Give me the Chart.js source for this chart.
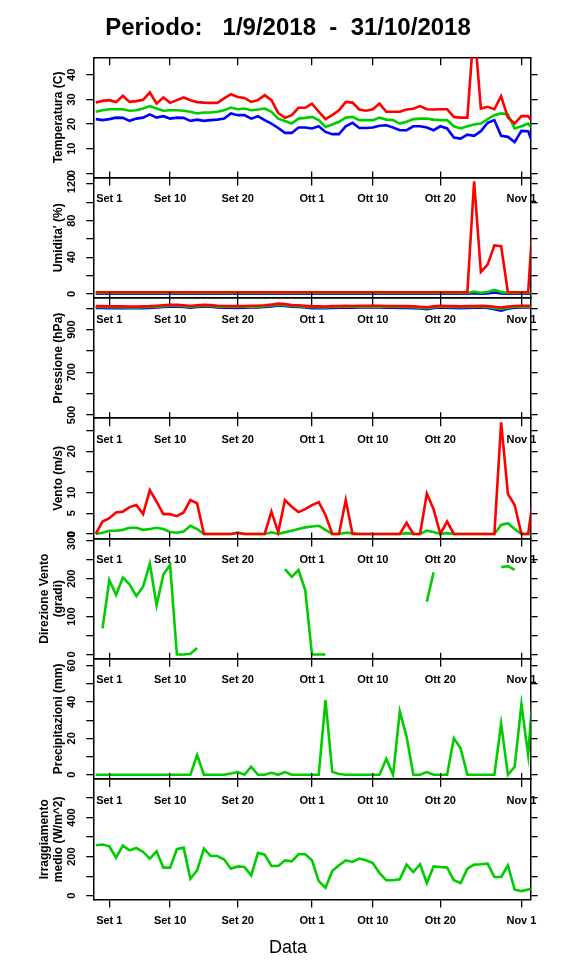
<!DOCTYPE html>
<html>
<head>
<meta charset="utf-8">
<script src="https://cdn.jsdelivr.net/npm/chart.js@4.4.1/dist/chart.umd.min.js"></script>
<style>
  body { margin: 0; background: #fff; }
  #wrap { position: relative; width: 576px; height: 972px; overflow: hidden; }
  #wrap canvas { position: absolute; left: 0; }
</style>
</head>
<body>
<div id="wrap"></div>
<script>
// days counted from 1 Sep 2018 (day 0)
const dayIndex = [-2, -1, 0, 1, 2, 3, 4, 5, 6, 7,
  8, 9, 10, 11, 12, 13, 14, 15, 16, 17,
  18, 19, 20, 21, 22, 23, 24, 25, 26, 27,
  28, 29, 30, 31, 32, 33, 34, 35, 36, 37,
  38, 39, 40, 41, 42, 43, 44, 45, 46, 47,
  48, 49, 50, 51, 52, 53, 54, 55, 56, 57,
  58, 59, 60, 61, 62, 63];

const dateTicks = [0, 9, 19, 30, 39, 49, 61];
const dateLabels = ["Set 1", "Set 10", "Set 20", "Ott 1", "Ott 10", "Ott 20", "Nov 1"];

const tempMax = [28.7, 29.4, 29.7, 28.9, 31.5, 29.0, 29.3, 29.8, 32.8, 28.3,
  30.8, 28.6, 29.7, 30.8, 29.7, 28.9, 28.7, 28.6, 28.6, 30.4,
  32.1, 31.0, 30.6, 29.0, 29.7, 31.7, 29.7, 24.5, 22.5, 23.6,
  26.6, 26.6, 28.3, 25.0, 22.0, 23.6, 25.6, 29.0, 28.7, 25.9,
  25.4, 26.0, 28.3, 25.0, 25.0, 25.0, 25.9, 26.2, 27.3, 26.0,
  25.9, 26.0, 26.0, 22.9, 22.6, 22.6, 60.0, 26.3, 27.0, 26.0,
  31.3, 22.6, 20.2, 23.2, 23.2, 19.6];
const tempMean = [25.0, 25.6, 26.0, 26.0, 26.0, 25.4, 25.6, 26.3, 27.3, 26.3,
  25.4, 25.6, 25.6, 25.4, 25.0, 24.3, 24.7, 24.7, 25.0, 25.6,
  26.7, 26.0, 26.3, 25.6, 25.9, 26.3, 25.0, 22.2, 21.2, 20.2,
  22.2, 22.5, 22.9, 21.6, 18.8, 19.8, 20.9, 22.6, 22.9, 21.6,
  21.6, 21.6, 22.6, 21.8, 21.6, 20.2, 20.9, 22.0, 22.2, 22.2,
  21.8, 21.6, 21.6, 19.1, 18.2, 19.1, 19.8, 20.2, 22.0, 23.6,
  24.3, 23.9, 18.2, 19.1, 20.2, 17.0];
const tempMin = [22.0, 21.6, 22.0, 22.6, 22.5, 21.3, 22.2, 22.6, 23.9, 22.6,
  23.2, 22.2, 22.6, 22.5, 21.3, 21.8, 21.3, 21.6, 21.8, 22.2,
  24.3, 23.6, 23.6, 22.2, 23.2, 21.6, 20.2, 18.4, 16.4, 16.4,
  18.6, 18.6, 18.2, 19.1, 16.8, 15.9, 15.9, 19.1, 20.5, 18.4,
  18.4, 18.6, 19.3, 19.5, 18.6, 17.5, 17.5, 19.1, 19.1, 18.6,
  17.5, 19.1, 18.2, 14.5, 14.1, 15.7, 15.2, 17.1, 20.5, 21.6,
  15.2, 14.8, 12.7, 17.2, 17.1, 9.5];

const humMax = [1.8, 1.8, 1.8, 1.8, 1.8, 1.8, 1.8, 1.8, 1.8, 1.8,
  1.8, 1.8, 1.8, 1.8, 1.8, 1.8, 1.8, 1.8, 1.8, 1.8,
  1.8, 1.8, 1.8, 1.8, 1.8, 1.8, 1.8, 1.8, 1.8, 1.8,
  1.8, 1.8, 1.8, 1.8, 1.8, 1.8, 1.8, 1.8, 1.8, 1.8,
  1.8, 1.8, 1.8, 1.8, 1.8, 1.8, 1.8, 1.8, 1.8, 1.8,
  1.8, 1.8, 1.8, 1.8, 1.8, 1.8, 123, 24, 32, 53,
  52, 1.8, 1.8, 1.8, 1.8, 115];
const humMean = [1.0, 1.0, 1.0, 1.0, 1.0, 1.0, 1.0, 1.0, 1.0, 1.0,
  1.0, 1.0, 1.0, 1.0, 1.0, 1.0, 1.0, 1.0, 1.0, 1.0,
  1.0, 1.0, 1.0, 1.0, 1.0, 1.0, 1.0, 1.0, 1.0, 1.0,
  1.0, 1.0, 1.0, 1.0, 1.0, 1.0, 1.0, 1.0, 1.0, 1.0,
  1.0, 1.0, 1.0, 1.0, 1.0, 1.0, 1.0, 1.0, 1.0, 1.0,
  1.0, 1.0, 1.0, 1.0, 1.0, 1.0, 2.5, 1.2, 2.0, 4.5,
  2.0, 1.0, 1.0, 1.0, 1.0, 1.0];
const humMin = [0.3, 0.3, 0.3, 0.3, 0.3, 0.3, 0.3, 0.3, 0.3, 0.3,
  0.3, 0.3, 0.3, 0.3, 0.3, 0.3, 0.3, 0.3, 0.3, 0.3,
  0.3, 0.3, 0.3, 0.3, 0.3, 0.3, 0.3, 0.3, 0.3, 0.3,
  0.3, 0.3, 0.3, 0.3, 0.3, 0.3, 0.3, 0.3, 0.3, 0.3,
  0.3, 0.3, 0.3, 0.3, 0.3, 0.3, 0.3, 0.3, 0.3, 0.3,
  0.3, 0.3, 0.3, 0.3, 0.3, 0.3, 0.8, 0.3, 0.5, 1.5,
  0.5, 0.3, 0.3, 0.3, 0.3, 0.3];

const pressMax = [1010, 1010, 1009, 1009, 1009, 1008, 1008, 1009, 1010, 1012,
  1014, 1016, 1016, 1014, 1011, 1014, 1016, 1015, 1012, 1011,
  1011, 1010, 1011, 1012, 1012, 1014, 1017, 1022, 1020, 1015,
  1014, 1012, 1009, 1009, 1008, 1010, 1011, 1012, 1011, 1012,
  1012, 1012, 1012, 1011, 1011, 1010, 1010, 1009, 1007, 1005,
  1009, 1012, 1011, 1010, 1009, 1010, 1011, 1012, 1010, 1007,
  1003, 1008, 1011, 1012, 1012, 1012];
const pressMean = [1006, 1006, 1005, 1005, 1005, 1004, 1004, 1005, 1006, 1008,
  1010, 1012, 1012, 1010, 1007, 1010, 1012, 1011, 1008, 1007,
  1007, 1006, 1007, 1008, 1008, 1010, 1013, 1017, 1015, 1011,
  1010, 1008, 1005, 1005, 1004, 1006, 1007, 1008, 1007, 1008,
  1008, 1008, 1008, 1007, 1007, 1006, 1006, 1005, 1003, 1001,
  1005, 1008, 1007, 1006, 1005, 1006, 1007, 1008, 1005, 1001,
  997, 1003, 1007, 1008, 1008, 1008];
const pressMin = [1002, 1002, 1001, 1001, 1001, 1000, 1000, 1001, 1002, 1004,
  1006, 1008, 1008, 1006, 1003, 1006, 1008, 1007, 1004, 1003,
  1003, 1002, 1003, 1004, 1004, 1006, 1009, 1013, 1011, 1007,
  1006, 1004, 1001, 1001, 1000, 1002, 1003, 1004, 1003, 1004,
  1004, 1004, 1004, 1003, 1003, 1002, 1002, 1001, 999, 996,
  1001, 1004, 1003, 1002, 1001, 1002, 1003, 1004, 1001, 996,
  989, 998, 1003, 1004, 1004, 1004];

const windMax = [0, 3.0, 3.8, 5.2, 5.4, 6.5, 7.0, 4.8, 10.6, 7.8,
  4.8, 4.8, 4.3, 5.2, 8.2, 7.4, 0, 0, 0, 0,
  0, 0.3, 0, 0, 0, 0, 5.4, 0.4, 8.2, 6.6,
  5.3, 6.0, 7.0, 7.7, 4.6, 0, 0, 8.2, 0, 0,
  0, 0, 0, 0, 0, 0, 2.7, 0, 0, 9.8,
  6.0, 0, 3.0, 0, 0, 0, 0, 0, 0, 0,
  27.0, 9.7, 7.0, 0, 0, 12];
const windMean = [0, 0.3, 0.8, 0.8, 1.0, 1.5, 1.5, 1.0, 1.2, 1.5,
  1.2, 0.5, 0.3, 0.6, 2.0, 1.2, 0, 0, 0, 0,
  0, 0.3, 0, 0, 0, 0, 0.4, 0, 0.4, 0.8,
  1.2, 1.6, 1.8, 2.0, 1.0, 0, 0, 0.3, 0.2, 0,
  0, 0, 0, 0, 0, 0, 0.2, 0, 0, 0.8,
  0.5, 0, 0.2, 0, 0, 0, 0, 0, 0, 0,
  2.2, 2.6, 1.2, 0, 0, 0];

const windDir = [null, 69, 196, 157, 203, 185, 154, 179, 240, 130,
  211, 236, 0, 0, 2, 17, null, null, null, null,
  null, null, null, null, null, null, null, null, 225, 205,
  223, 170, 0, 0, 0, null, null, null, null, null,
  null, null, null, null, null, null, null, null, null, 139,
  217, null, null, null, null, null, null, null, null, null,
  230, 233, 223, null, null, null];

const rain = [0, 0, 0, 0, 0, 0, 0, 0, 0, 0,
  0, 0, 0, 0, 0, 10.8, 0, 0, 0, 0,
  0.7, 1.5, 0, 4.4, 0, 0, 1.1, 0, 1.5, 0,
  0, 0, 0, 0, 41, 1.6, 0.4, 0, 0, 0,
  0, 0, 0, 8.8, 0, 34.7, 21, 0, 0, 1.5,
  0, 0, 0, 20, 14.5, 0, 0, 0, 0, 0,
  28, 0, 4.4, 38.7, 10.8, 60];

const radiation = [258, 262, 253, 195, 256, 232, 244, 224, 190, 227,
  144, 144, 238, 246, 87, 130, 241, 203, 203, 185,
  138, 150, 147, 104, 219, 210, 152, 152, 181, 176,
  212, 212, 181, 75, 41, 126, 156, 181, 173, 190,
  181, 167, 116, 79, 79, 84, 159, 121, 161, 65,
  150, 147, 144, 79, 65, 138, 159, 161, 164, 96,
  96, 156, 31, 24, 32, 40];

const tempTicks = [0, 10, 20, 30, 40];
const tempTickLabels = ["0", "10", "20", "30", "40"];
const humTicks = [0, 20, 40, 60, 80, 100, 120];
const humTickLabels = ["0", "", "40", "", "80", "", "120"];
const pressTicks = [500, 600, 700, 800, 900, 1000];
const pressTickLabels = ["500", "", "700", "", "900", ""];
const windTicks = [0, 5, 10, 15, 20, 25];
const windTickLabels = ["0", "5", "10", "", "20", ""];
const dirTicks = [0, 50, 100, 150, 200, 250, 300];
const dirTickLabels = ["0", "", "100", "", "200", "", "300"];
const rainTicks = [0, 10, 20, 30, 40, 50, 60];
const rainTickLabels = ["0", "", "20", "", "40", "", "60"];
const radTicks = [0, 100, 200, 300, 400, 500];
const radTickLabels = ["0", "", "200", "", "400", ""];

const mainTitle = "Periodo:   1/9/2018  -  31/10/2018";
const xTitle = "Data";

const RED = "#ff0000", GREEN = "#00cd00", BLUE = "#0000ff";
const X_MIN = -2.37, X_MAX = 62.36;
const PANEL_TOP = 57.3, PANEL_H = 120.3, LEFT_W = 93.3, RIGHT_W = 45.4;

Chart.defaults.font.family = "'Liberation Sans', Arial, Helvetica, sans-serif";
Chart.defaults.color = "#000";
Chart.defaults.animation = false;

const tickFont = { size: 11, weight: "bold" };

const panels = [
  { title: "Temperatura (C)", min: -1.75, max: 47.1, ticks: tempTicks, labels: tempTickLabels, pad: 8.7,
    series: [[tempMax, RED], [tempMean, GREEN], [tempMin, BLUE]] },
  { title: "Umidita' (%)", min: -4.4, max: 127, ticks: humTicks, labels: humTickLabels, pad: 5.6,
    series: [[humMax, RED], [humMean, GREEN], [humMin, BLUE]] },
  { title: "Pressione (hPa)", min: 485, max: 1048.7, ticks: pressTicks, labels: pressTickLabels, pad: 5.6,
    series: [[pressMax, RED], [pressMean, GREEN], [pressMin, BLUE]] },
  { title: "Vento (m/s)", min: -1.09, max: 28, ticks: windTicks, labels: windTickLabels, pad: 8.7,
    series: [[windMax, RED], [windMean, GREEN]] },
  { title: ["Direzione Vento", "(gradi)"], min: -11.3, max: 306, ticks: dirTicks, labels: dirTickLabels, pad: 5.6,
    series: [[windDir, GREEN]] },
  { title: "Precipitazioni (mm)", min: -2.37, max: 63.7, ticks: rainTicks, labels: rainTickLabels, pad: 8.7,
    series: [[rain, GREEN]] },
  { title: ["Irraggiamento", "medio (W/m^2)"], min: -19, max: 596, ticks: radTicks, labels: radTickLabels, pad: 5.6,
    series: [[radiation, GREEN]] }
];

const setDateTicks = s => { s.ticks = dateTicks.map(v => ({ value: v })); };
const axisGrid = tl => ({ drawOnChartArea: false, drawTicks: true, tickLength: tl, color: "#000", lineWidth: 1.3 });
const axisBorder = { display: true, color: "#000", width: 1.5 };

function makePanel(p, i) {
  const first = i === 0, last = i === panels.length - 1;
  const panelTop = PANEL_TOP + i * PANEL_H;
  // canvases sit on whole pixels so shared borders stay sharp
  const top = first ? 0 : Math.floor(panelTop) - 18;
  const padTop = first ? 0 : panelTop - top;
  const height = first ? 218 : (last ? 972 - top : 178);
  const topSpace = first ? PANEL_TOP : padTop;
  const bottomTitle = last ? 36.9 : 0;
  const xAxisH = height - topSpace - PANEL_H - bottomTitle;

  const canvas = document.createElement("canvas");
  canvas.width = 576;
  canvas.height = height;
  canvas.style.top = top + "px";
  document.getElementById("wrap").appendChild(canvas);

  const yTicks = s => { s.ticks = p.ticks.map(v => ({ value: v })); };
  const twoLines = Array.isArray(p.title);

  let titleOpts = { display: false };
  if (first) {
    titleOpts = { display: true, text: mainTitle, color: "#000",
      font: { size: 24, weight: "bold", lineHeight: 1.2 }, padding: { top: 13.6, bottom: 14.9 } };
  } else if (last) {
    titleOpts = { display: true, position: "bottom", text: xTitle, color: "#000",
      font: { size: 18, weight: "normal", lineHeight: 1.2 }, padding: { top: 2, bottom: 13.2 } };
  }

  new Chart(canvas.getContext("2d"), {
    type: "line",
    data: {
      datasets: p.series.map(([vals, color]) => ({
        data: dayIndex.map((d, k) => ({ x: d, y: vals[k] })),
        borderColor: color,
        borderWidth: 2.6,
        pointRadius: 0,
        tension: 0,
        fill: false,
        spanGaps: false,
        xAxisID: "x",
        yAxisID: "y"
      }))
    },
    options: {
      responsive: false,
      events: [],
      layout: { padding: { top: padTop, left: 0, right: 0, bottom: 0 } },
      plugins: {
        legend: { display: false },
        tooltip: { enabled: false },
        title: titleOpts
      },
      scales: {
        x: {
          type: "linear", axis: "x", position: "bottom", min: X_MIN, max: X_MAX,
          afterBuildTicks: setDateTicks,
          afterFit: s => { s.height = xAxisH; },
          ticks: { autoSkip: false, minRotation: 0, maxRotation: 0, padding: 7, font: tickFont, color: "#000",
            callback: (v, k) => dateLabels[k] },
          grid: axisGrid(8),
          border: axisBorder
        },
        xTop: {
          type: "linear", axis: "x", position: "top", min: X_MIN, max: X_MAX,
          afterBuildTicks: setDateTicks,
          afterFit: s => { s.height = 0; },
          ticks: { display: false },
          grid: axisGrid(first ? -8 : 6),
          border: axisBorder
        },
        y: {
          type: "linear", axis: "y", position: "left", min: p.min, max: p.max,
          afterBuildTicks: yTicks,
          afterFit: s => { s.width = LEFT_W; },
          ticks: { autoSkip: false, minRotation: 90, maxRotation: 90, crossAlign: "center", padding: p.pad,
            font: tickFont, color: "#000", callback: (v, k) => p.labels[k] },
          grid: axisGrid(7),
          border: axisBorder,
          title: { display: true, text: p.title, color: "#000",
            font: { size: 12, weight: "bold", lineHeight: 1.15 },
            padding: { top: twoLines ? 37.7 : 51.6, bottom: 0 } }
        },
        yRight: {
          type: "linear", axis: "y", position: "right", min: p.min, max: p.max,
          afterBuildTicks: yTicks,
          afterFit: s => { s.width = RIGHT_W; },
          ticks: { display: false },
          grid: axisGrid(7),
          border: axisBorder
        }
      }
    }
  });
}

panels.forEach(makePanel);
</script>
</body>
</html>
